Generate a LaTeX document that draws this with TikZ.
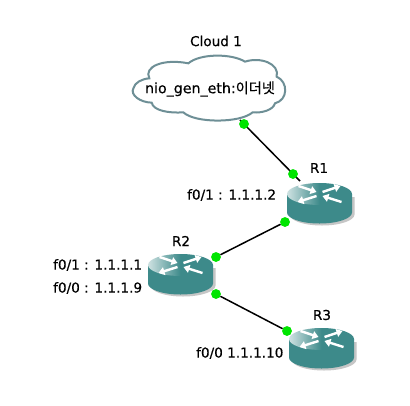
\documentclass[tikz,border=0pt]{standalone}
\usepackage{fontspec}
\setmainfont[FakeBold=0.4]{DejaVu Sans}
\newfontfamily\krfont[FakeBold=0.4]{Noto Sans CJK KR}
\usetikzlibrary{arrows.meta}
\definecolor{teal2}{HTML}{3D8A8A}
\definecolor{cloudline}{HTML}{6E8F96}
\tikzset{
  link/.style={line width=1.5pt,black},
  port/.style={circle,fill=green!90!black,inner sep=0pt,minimum size=9.5pt},
  lbl/.style={font=\fontsize{13.6}{15}\selectfont,inner sep=0pt,black},
  arrowline/.style={white,line width=2.4pt,-{Triangle[length=6pt,width=8pt]}},
  router/.pic={
    \fill[gray!45] (-30,3) -- (-30,20.5) arc[start angle=180,end angle=0,x radius=32.5,y radius=11] -- (35,3) -- cycle;
    \fill[teal2] (-32.5,0) -- (-32.5,18.5) arc[start angle=180,end angle=0,x radius=32.5,y radius=11] -- (32.5,0) -- cycle;
    \shade[left color=teal2!25!white,right color=teal2,middle color=teal2] (0,0) ellipse[x radius=32.5,y radius=11];
    \draw[arrowline] (-21,-8) -- (-3,-2);
    \draw[arrowline] (3,-2) -- (21,-8);
    \draw[arrowline] (-3,2) -- (-22,8);
    \draw[arrowline] (22,8) -- (3,2);
  }
}
\begin{document}
\begin{tikzpicture}[x=1pt,y=-1pt]
\useasboundingbox (0,0) rectangle (410,405);
\fill[white] (0,0) rectangle (410,405);
% ports
\coordinate (c1) at (240,120);
\coordinate (e1) at (300,181);
\node[port] (d1) at (244,124) {};
\node[port] (d2) at (293,174) {};
\node[port] (d3) at (285,222) {};
\node[port] (d4) at (216,257) {};
\node[port] (d5) at (216,294) {};
\node[port] (d6) at (287,331) {};
\draw[link] (c1) -- (e1);
\draw[link] (d3) -- (d4);
\draw[link] (d5) -- (d6);
% cloud
\begin{scope}[shift={(120,25)},x=0.3333pt,y=-0.3333pt]
\draw[cloudline,fill=white,line width=2pt]
 (40,190) .. controls (45,172) and (65,162) .. (88,160)
 .. controls (70,125) and (130,100) .. (205,115)
 .. controls (240,85) and (335,85) .. (375,110)
 .. controls (420,95) and (480,115) .. (470,155)
 .. controls (505,170) and (505,225) .. (465,235)
 .. controls (460,255) and (425,265) .. (398,262)
 .. controls (360,295) and (225,295) .. (190,262)
 .. controls (150,265) and (100,258) .. (95,233)
 .. controls (60,232) and (30,210) .. (40,190) -- cycle;
\end{scope}
\path (319.5,194) pic {router};
\path (180.5,265) pic {router};
\path (321.5,339) pic {router};
\node[port] at (d1) {};
\node[port] at (d2) {};
\node[port] at (d3) {};
\node[port] at (d4) {};
\node[port] at (d5) {};
\node[port] at (d6) {};
\node[lbl] (cloudname) at (216,41) {Cloud 1};
\node[lbl] (cloudtext) at (210,89) {\fontsize{14.2}{15}\selectfont nio\_gen\_eth:{\krfont 이더넷}};
\node[lbl] (r1) at (319,168) {R1};
\node[lbl] (r2) at (181,241) {R2};
\node[lbl] (r3) at (322,315) {R3};
\node[lbl,anchor=west] (a1) at (187,195) {f0/1 : 1.1.1.2};
\node[lbl,anchor=west] (a2) at (53,265) {f0/1 : 1.1.1.1};
\node[lbl,anchor=west] (a3) at (53,288) {f0/0 : 1.1.1.9};
\node[lbl,anchor=west] (a4) at (196,353) {f0/0 1.1.1.10};
\end{tikzpicture}
\end{document}
